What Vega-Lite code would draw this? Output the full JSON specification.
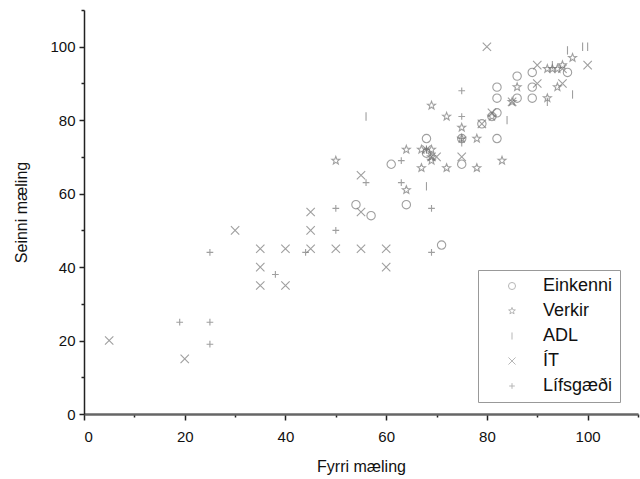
{
  "$schema": "https://vega.github.io/schema/vega-lite/v6.json",
  "width": 554,
  "height": 404,
  "autosize": {"type": "none"},
  "padding": {"left": 84, "top": 10, "right": 2, "bottom": 65},
  "background": "white",
  "config": {
    "view": {"stroke": null},
    "font": "Liberation Sans",
    "axis": {"grid": false, "labelFont": "Liberation Sans", "titleFont": "Liberation Sans", "labelColor": "#111", "titleColor": "#111", "tickColor": "#222", "titleFontWeight": "normal"}
  },
  "data": {
    "values": [
      {"serie": "Einkenni", "x": 54, "y": 57}, {"serie": "Einkenni", "x": 57, "y": 54}, {"serie": "Einkenni", "x": 61, "y": 68}, {"serie": "Einkenni", "x": 64, "y": 57},
      {"serie": "Einkenni", "x": 68, "y": 75}, {"serie": "Einkenni", "x": 68, "y": 71}, {"serie": "Einkenni", "x": 71, "y": 46}, {"serie": "Einkenni", "x": 75, "y": 68},
      {"serie": "Einkenni", "x": 79, "y": 79}, {"serie": "Einkenni", "x": 81, "y": 81}, {"serie": "Einkenni", "x": 82, "y": 89}, {"serie": "Einkenni", "x": 82, "y": 86},
      {"serie": "Einkenni", "x": 82, "y": 82}, {"serie": "Einkenni", "x": 82, "y": 75}, {"serie": "Einkenni", "x": 86, "y": 92}, {"serie": "Einkenni", "x": 86, "y": 86},
      {"serie": "Einkenni", "x": 89, "y": 93}, {"serie": "Einkenni", "x": 89, "y": 89}, {"serie": "Einkenni", "x": 89, "y": 86}, {"serie": "Einkenni", "x": 96, "y": 93},
      {"serie": "Einkenni", "x": 75, "y": 75},
      {"serie": "Verkir", "x": 50, "y": 69}, {"serie": "Verkir", "x": 64, "y": 72}, {"serie": "Verkir", "x": 64, "y": 61}, {"serie": "Verkir", "x": 67, "y": 72},
      {"serie": "Verkir", "x": 67, "y": 67}, {"serie": "Verkir", "x": 69, "y": 84}, {"serie": "Verkir", "x": 69, "y": 72}, {"serie": "Verkir", "x": 69, "y": 69},
      {"serie": "Verkir", "x": 72, "y": 81}, {"serie": "Verkir", "x": 72, "y": 67}, {"serie": "Verkir", "x": 75, "y": 78}, {"serie": "Verkir", "x": 75, "y": 75},
      {"serie": "Verkir", "x": 78, "y": 75}, {"serie": "Verkir", "x": 78, "y": 67}, {"serie": "Verkir", "x": 81, "y": 81}, {"serie": "Verkir", "x": 83, "y": 69},
      {"serie": "Verkir", "x": 85, "y": 85}, {"serie": "Verkir", "x": 86, "y": 89}, {"serie": "Verkir", "x": 92, "y": 86}, {"serie": "Verkir", "x": 92, "y": 94},
      {"serie": "Verkir", "x": 94, "y": 94}, {"serie": "Verkir", "x": 94, "y": 89}, {"serie": "Verkir", "x": 95, "y": 95}, {"serie": "Verkir", "x": 97, "y": 97},
      {"serie": "Verkir", "x": 93, "y": 94}, {"serie": "Verkir", "x": 69, "y": 70},
      {"serie": "ADL", "x": 56, "y": 81}, {"serie": "ADL", "x": 68, "y": 62}, {"serie": "ADL", "x": 75, "y": 74}, {"serie": "ADL", "x": 84, "y": 80},
      {"serie": "ADL", "x": 93, "y": 95}, {"serie": "ADL", "x": 96, "y": 99}, {"serie": "ADL", "x": 97, "y": 87}, {"serie": "ADL", "x": 99, "y": 100},
      {"serie": "ADL", "x": 100, "y": 100}, {"serie": "ADL", "x": 92, "y": 85}, {"serie": "ADL", "x": 68, "y": 72},
      {"serie": "ÍT", "x": 5, "y": 20}, {"serie": "ÍT", "x": 20, "y": 15}, {"serie": "ÍT", "x": 30, "y": 50}, {"serie": "ÍT", "x": 35, "y": 45},
      {"serie": "ÍT", "x": 35, "y": 40}, {"serie": "ÍT", "x": 35, "y": 35}, {"serie": "ÍT", "x": 40, "y": 45}, {"serie": "ÍT", "x": 40, "y": 35},
      {"serie": "ÍT", "x": 45, "y": 55}, {"serie": "ÍT", "x": 45, "y": 50}, {"serie": "ÍT", "x": 45, "y": 45}, {"serie": "ÍT", "x": 50, "y": 45},
      {"serie": "ÍT", "x": 55, "y": 45}, {"serie": "ÍT", "x": 55, "y": 65}, {"serie": "ÍT", "x": 55, "y": 55}, {"serie": "ÍT", "x": 60, "y": 45},
      {"serie": "ÍT", "x": 60, "y": 40}, {"serie": "ÍT", "x": 69, "y": 70}, {"serie": "ÍT", "x": 70, "y": 70}, {"serie": "ÍT", "x": 75, "y": 70},
      {"serie": "ÍT", "x": 79, "y": 79}, {"serie": "ÍT", "x": 81, "y": 82}, {"serie": "ÍT", "x": 85, "y": 85}, {"serie": "ÍT", "x": 80, "y": 100},
      {"serie": "ÍT", "x": 90, "y": 95}, {"serie": "ÍT", "x": 90, "y": 90}, {"serie": "ÍT", "x": 95, "y": 90}, {"serie": "ÍT", "x": 100, "y": 95},
      {"serie": "ÍT", "x": 95, "y": 94}, {"serie": "ÍT", "x": 68, "y": 72},
      {"serie": "Lífsgæði", "x": 19, "y": 25}, {"serie": "Lífsgæði", "x": 25, "y": 25}, {"serie": "Lífsgæði", "x": 25, "y": 44}, {"serie": "Lífsgæði", "x": 25, "y": 19},
      {"serie": "Lífsgæði", "x": 38, "y": 38}, {"serie": "Lífsgæði", "x": 44, "y": 44}, {"serie": "Lífsgæði", "x": 50, "y": 56}, {"serie": "Lífsgæði", "x": 50, "y": 50},
      {"serie": "Lífsgæði", "x": 56, "y": 63}, {"serie": "Lífsgæði", "x": 63, "y": 69}, {"serie": "Lífsgæði", "x": 63, "y": 63}, {"serie": "Lífsgæði", "x": 69, "y": 56},
      {"serie": "Lífsgæði", "x": 69, "y": 44}, {"serie": "Lífsgæði", "x": 75, "y": 88}, {"serie": "Lífsgæði", "x": 75, "y": 81}, {"serie": "Lífsgæði", "x": 75, "y": 75},
      {"serie": "Lífsgæði", "x": 68, "y": 72}
    ]
  },
  "layer": [
    {
      "mark": {"type": "point", "opacity": 0},
      "encoding": {
        "x": {"field": "x", "type": "quantitative", "scale": {"domain": [0, 110], "nice": false},
          "axis": {"orient": "bottom", "values": [10, 30, 50, 70, 90, 110], "labels": false, "domain": false, "tickSize": 3, "title": null, "tickWidth": 1.5}},
        "y": {"field": "y", "type": "quantitative", "scale": {"domain": [0, 110], "nice": false},
          "axis": {"orient": "left", "values": [10, 30, 50, 70, 90, 110], "labels": false, "domain": false, "tickSize": 3, "title": null, "tickWidth": 1.5}}
      }
    },
    {
      "mark": {"type": "point", "filled": false, "strokeWidth": 1.1, "size": 70},
      "encoding": {
        "x": {"field": "x", "type": "quantitative",
          "axis": {"orient": "bottom", "values": [0, 20, 40, 60, 80, 100], "title": "Fyrri mæling", "domainColor": "#666", "domainWidth": 2.5, "tickSize": 6, "tickWidth": 1.5, "labelFontSize": 15, "labelPadding": 9, "titleFontSize": 16, "titlePadding": 14}},
        "y": {"field": "y", "type": "quantitative",
          "axis": {"orient": "left", "values": [0, 20, 40, 60, 80, 100], "title": "Seinni mæling", "domainColor": "#222", "domainWidth": 1.5, "tickSize": 5, "tickWidth": 1.5, "labelFontSize": 15, "labelPadding": 4, "titleFontSize": 16, "titlePadding": 20}},
        "shape": {"field": "serie", "type": "nominal",
          "scale": {"domain": ["Einkenni", "Verkir", "ADL", "ÍT", "Lífsgæði"],
            "range": ["circle", "M0,-1L0.247,-0.34L0.951,-0.309L0.399,0.13L0.588,0.809L0,0.42L-0.588,0.809L-0.399,0.13L-0.951,-0.309L-0.247,-0.34Z", "M0,-1L0,1", "M-1,-1L1,1M-1,1L1,-1", "M-0.8,0L0.8,0M0,-0.8L0,0.8"]},
          "legend": {"title": null, "orient": "none", "legendX": 394, "legendY": 260, "labelFontSize": 18, "labelFont": "Liberation Sans", "labelColor": "#111", "strokeColor": "#999", "padding": 7, "symbolOffset": 18, "symbolStrokeColor": "#999", "symbolStrokeWidth": 1, "symbolSize": 50, "rowPadding": 7, "symbolFillColor": "transparent", "labelOffset": 22, "fillColor": "white"}},
        "color": {"value": "#777777"}
      }
    }
  ],
  "resolve": {"axis": {"x": "independent", "y": "independent"}}
}
